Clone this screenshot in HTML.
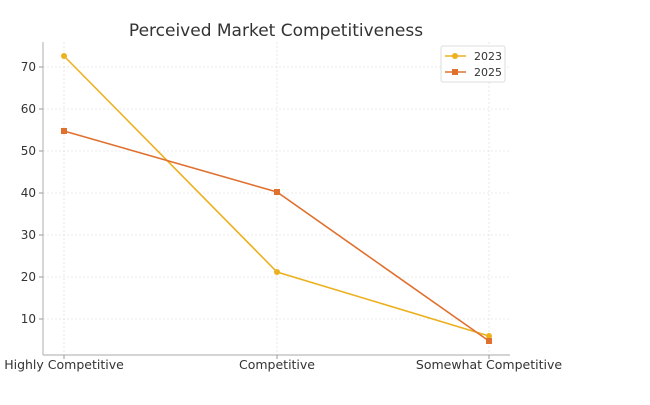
<!DOCTYPE html>
<html><head><style>body{margin:0;background:#fff}</style></head><body>
<svg width="650" height="400" xmlns="http://www.w3.org/2000/svg" font-family="DejaVu Sans, sans-serif">
<rect width="650" height="400" fill="#fff"/>
<text x="276" y="36" font-size="17" text-anchor="middle" fill="#333">Perceived Market Competitiveness</text>
<g stroke="#d8d8d8" stroke-width="0.6" stroke-dasharray="2,2">
<line x1="43" x2="510" y1="67" y2="67"/><line x1="43" x2="510" y1="109" y2="109"/>
<line x1="43" x2="510" y1="151" y2="151"/><line x1="43" x2="510" y1="193" y2="193"/>
<line x1="43" x2="510" y1="235" y2="235"/><line x1="43" x2="510" y1="277" y2="277"/>
<line x1="43" x2="510" y1="319" y2="319"/>
<line x1="64" x2="64" y1="42" y2="355"/><line x1="277" x2="277" y1="42" y2="355"/><line x1="489" x2="489" y1="42" y2="355"/>
</g>
<g stroke="#bbb" stroke-width="1.2"><line x1="43" x2="43" y1="42" y2="355"/><line x1="43" x2="510" y1="355" y2="355"/></g>
<g stroke="#999"><line x1="39" x2="43" y1="67" y2="67"/><line x1="39" x2="43" y1="109" y2="109"/><line x1="39" x2="43" y1="151" y2="151"/><line x1="39" x2="43" y1="193" y2="193"/><line x1="39" x2="43" y1="235" y2="235"/><line x1="39" x2="43" y1="277" y2="277"/><line x1="39" x2="43" y1="319" y2="319"/>
<line x1="64" x2="64" y1="355" y2="359"/><line x1="277" x2="277" y1="355" y2="359"/><line x1="489" x2="489" y1="355" y2="359"/></g>
<g font-size="12" fill="#333" text-anchor="end">
<text x="36" y="71">70</text><text x="36" y="113">60</text><text x="36" y="155">50</text><text x="36" y="197">40</text><text x="36" y="239">30</text><text x="36" y="281">20</text><text x="36" y="323">10</text></g>
<g font-size="12.5" fill="#333" text-anchor="middle">
<text x="64" y="369">Highly Competitive</text><text x="277" y="369">Competitive</text><text x="489" y="369">Somewhat Competitive</text></g>
<polyline points="64,56 277,272 489,336" fill="none" stroke="#EDB120" stroke-width="1.6"/>
<polyline points="64,131 277,192 489,341" fill="none" stroke="#E0702E" stroke-width="1.6"/>
<g fill="#EDB120"><circle cx="64" cy="56" r="3"/><circle cx="277" cy="272" r="3"/><circle cx="489" cy="336" r="3"/></g>
<g fill="#E0702E"><rect x="61" y="128" width="6" height="6"/><rect x="274" y="189" width="6" height="6"/><rect x="486" y="338" width="6" height="6"/></g>
<rect x="441" y="46" width="64" height="36" rx="2" fill="#fff" stroke="#ddd"/>
<line x1="445" x2="466" y1="56" y2="56" stroke="#EDB120" stroke-width="1.6"/><circle cx="455" cy="56" r="3" fill="#EDB120"/>
<line x1="445" x2="466" y1="72" y2="72" stroke="#E0702E" stroke-width="1.6"/><rect x="452" y="69" width="6" height="6" fill="#E0702E"/>
<text x="474" y="60" font-size="11" fill="#333">2023</text><text x="474" y="76" font-size="11" fill="#333">2025</text>
</svg>
</body></html>
